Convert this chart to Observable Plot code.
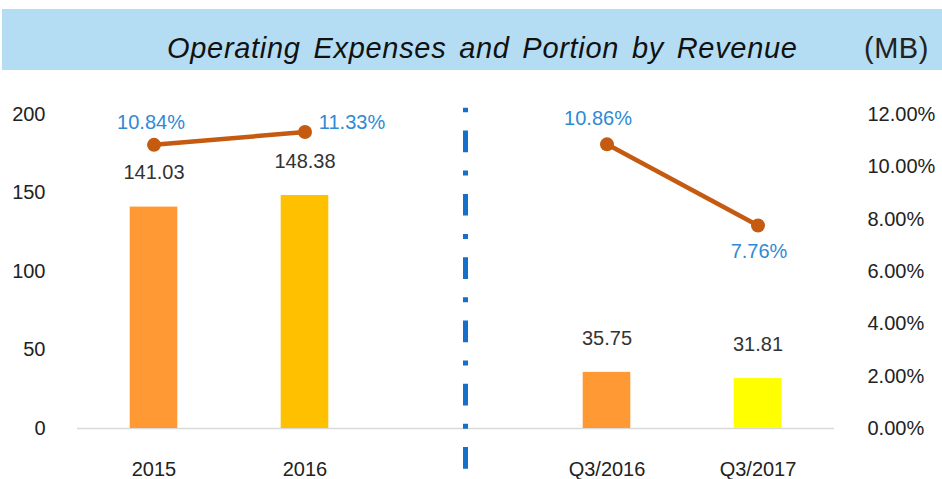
<!DOCTYPE html>
<html>
<head>
<meta charset="utf-8">
<script src="https://cdn.jsdelivr.net/npm/d3@7"></script>
<script src="https://cdn.jsdelivr.net/npm/@observablehq/plot@0.6"></script>
<style>
  html, body { margin: 0; padding: 0; background: #fff; }
  #wrap { position: relative; width: 942px; height: 479px; overflow: hidden; font-family: "Liberation Sans", Arial, sans-serif; }
  #band { position: absolute; left: 2px; top: 9px; width: 940px; height: 61px; background: #B4DDF3; }
  #title { position: absolute; left: 167px; top: 34px; font-size: 29px; line-height: 28px; font-style: italic; color: #111; white-space: nowrap; letter-spacing: 0.7px; word-spacing: 4px; }
  #unit { position: absolute; left: 864px; top: 34px; font-size: 29px; line-height: 28px; color: #222; white-space: nowrap; letter-spacing: 0.5px; }
  #chart { position: absolute; left: 0; top: 70px; }
</style>
</head>
<body>
<div id="wrap">
  <div id="band"></div>
  <div id="title">Operating Expenses and Portion by Revenue</div>
  <div id="unit">(MB)</div>
  <div id="chart"></div>
</div>
<script>
// ---- data ----
const categories = ["2015", "2016", "", "Q3/2016", "Q3/2017"];
const periods = ["2015", "2016", "Q3/2016", "Q3/2017"];
const expenses = [141.03, 148.38, 35.75, 31.81];
const portions = [10.84, 11.33, 10.86, 7.76];          // percent of revenue
const groups = ["annual", "annual", "quarter", "quarter"];
const barColors = ["#FF9933", "#FFC000", "#FF9933", "#FFFF00"];
const leftTicks = [0, 50, 100, 150, 200];
const rightTicks = [0, 2, 4, 6, 8, 10, 12];            // percent

// ---- helpers ----
const yMax = 200, pMax = 12;
const pct2y = p => p / pMax * yMax;
const rows = periods.map((p, i) => ({
  period: p, expense: expenses[i], portion: portions[i], group: groups[i], color: barColors[i], yp: pct2y(portions[i])
}));

// label offsets (styles / positions, not data)
const pctOffsets = [[-3, -22], [47, -9], [-9, -26], [1, 26]];

const step = (942 - 77 - 108) / categories.length;
const barW = 48;
const inset = (step - barW) / 2;

const pctLabels = rows.map((r, i) => Plot.text([r], {
  x: "period", y: "yp", text: d => d.portion.toFixed(2) + "%",
  dx: pctOffsets[i][0], dy: pctOffsets[i][1],
  fill: "#2F8AD4", fontSize: 20
}));

const chart = Plot.plot({
  width: 942,
  height: 409,
  marginLeft: 77,
  marginRight: 108,
  marginTop: 44,
  marginBottom: 51,
  style: { fontFamily: "Liberation Sans, Arial, sans-serif", background: "transparent", overflow: "visible" },
  x: { type: "band", domain: categories, padding: 0, label: null },
  y: { domain: [0, yMax], label: null },
  marks: [
    Plot.ruleY([0], { stroke: "#D9D9D9", strokeWidth: 1.5 }),
    Plot.barY(rows, { x: "period", y: "expense", fill: "color", insetLeft: inset, insetRight: inset }),
    Plot.text(rows, { x: "period", y: "expense", text: d => d.expense.toFixed(2), dy: -34, fill: "#333", fontSize: 20 }),
    Plot.line(rows, { x: "period", y: "yp", z: "group", stroke: "#C55A11", strokeWidth: 4.5 }),
    Plot.dot(rows, { x: "period", y: "yp", r: 7, fill: "#C55A11", stroke: null }),
    ...pctLabels,
    Plot.ruleX([""], { x: d => d, y1: -26, y2: 204, dx: 9.5, stroke: "#1570C9", strokeWidth: 5, strokeDasharray: "21.7,18.3,5,18.3" }),
    Plot.axisY({ anchor: "left", ticks: leftTicks, tickSize: 0, tickPadding: 32, fontSize: 20, fill: "#222", label: null }),
    Plot.axisY({ anchor: "right", ticks: rightTicks.map(pct2y), tickFormat: d => (d / yMax * pMax).toFixed(2) + "%", tickSize: 0, tickPadding: 33, fontSize: 20, fill: "#222", label: null }),
    Plot.axisX({ tickSize: 0, tickPadding: 33, fontSize: 20, fill: "#222", label: null })
  ]
});
document.getElementById("chart").appendChild(chart);
</script>
</body>
</html>
